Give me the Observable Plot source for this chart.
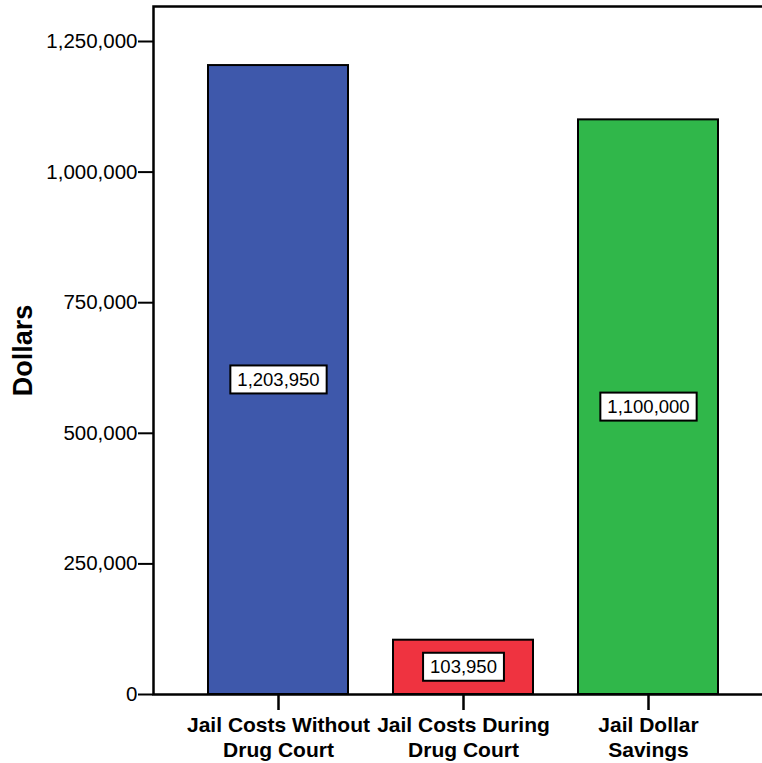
<!DOCTYPE html>
<html>
<head>
<meta charset="utf-8">
<script src="https://cdn.jsdelivr.net/npm/d3@7"></script>
<script src="https://cdn.jsdelivr.net/npm/@observablehq/plot@0.6"></script>
<style>
  html, body { margin: 0; padding: 0; background: #fff; overflow: hidden; }
</style>
</head>
<body>
<div id="chart"></div>
<script>
// Jail costs with and without the drug court program
const categories = ["Jail Costs Without\nDrug Court", "Jail Costs During\nDrug Court", "Jail Dollar\nSavings"];
const dollars = [1203950, 103950, 1100000];
const barColors = ["#3e58ab", "#ef3340", "#30b74a"];
const yTicks = [0, 250000, 500000, 750000, 1000000, 1250000];
const yMax = 1317000;

const rows = categories.map((c, i) => ({category: c, value: dollars[i], color: barColors[i]}));
const fmt = d3.format(",");

const plot = Plot.plot({
  width: 762,
  height: 763,
  marginLeft: 153,
  marginRight: 0,
  marginTop: 6,
  marginBottom: 69,
  style: {fontFamily: "'Liberation Sans', Arial, sans-serif", color: "#000", background: "#fff"},
  x: {domain: categories, paddingInner: 0.245, paddingOuter: 0.264, align: 0.551},
  y: {domain: [0, yMax]},
  color: {type: "identity"},
  marks: [
    Plot.barY(rows, {x: "category", y: "value", fill: "color", stroke: "#000", strokeWidth: 2}),
    Plot.frame({stroke: "#000", strokeWidth: 2.5, insetRight: -10}),
    Plot.axisY({ticks: yTicks, tickFormat: fmt, tickSize: 15, tickPadding: 1, fontSize: 20.5, strokeWidth: 2, label: null}),
    Plot.axisX({tickSize: 16, tickPadding: 4, fontSize: 21, fontWeight: "bold", lineHeight: 1.19, strokeWidth: 2.5, label: null}),
    Plot.text(rows, {x: "category", y: d => d.value / 2, text: d => fmt(d.value), fontSize: 18.5, fill: "#000"}),
    Plot.text(["Dollars"], {frameAnchor: "left", textAnchor: "middle", rotate: -90, dx: -130, fontSize: 27, fontWeight: "bold", fill: "#000"})
  ]
});

document.getElementById("chart").append(plot);

// Put a white, black-edged box behind each value label
const labelGroup = plot.querySelectorAll('g[aria-label="text"]')[0];
if (labelGroup) {
  labelGroup.querySelectorAll("text").forEach(t => {
    const b = t.getBBox();
    const r = document.createElementNS("http://www.w3.org/2000/svg", "rect");
    r.setAttribute("x", b.x - 7);
    r.setAttribute("y", b.y - 3.5);
    r.setAttribute("width", b.width + 14);
    r.setAttribute("height", b.height + 7);
    r.setAttribute("fill", "#fff");
    r.setAttribute("stroke", "#000");
    r.setAttribute("stroke-width", 2);
    const tr = t.getAttribute("transform");
    if (tr) r.setAttribute("transform", tr);
    t.parentNode.insertBefore(r, t);
  });
}
</script>
</body>
</html>
